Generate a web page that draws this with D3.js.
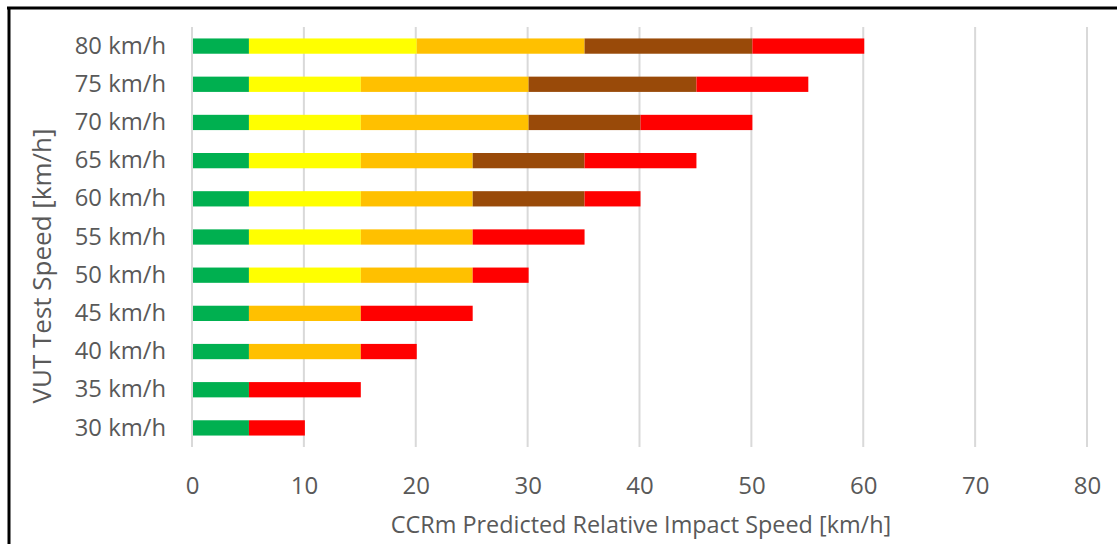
<!DOCTYPE html>
<html>
<head>
<meta charset="utf-8">
<script src="https://cdn.jsdelivr.net/npm/d3@7"></script>
<style>
  body { margin: 0; background: #fff; }
  text { font-family: "Open Sans", sans-serif; fill: #595959; }
</style>
</head>
<body>
<div id="chart"></div>
<script>
// categories (top to bottom) and the width of each coloured segment
var speeds = ["80 km/h", "75 km/h", "70 km/h", "65 km/h", "60 km/h", "55 km/h",
              "50 km/h", "45 km/h", "40 km/h", "35 km/h", "30 km/h"];
var green  = [5, 5, 5, 5, 5, 5, 5, 5, 5, 5, 5];
var yellow = [15, 10, 10, 10, 10, 10, 10, 0, 0, 0, 0];
var orange = [15, 15, 15, 10, 10, 10, 10, 10, 10, 0, 0];
var brown  = [15, 15, 10, 10, 10, 0, 0, 0, 0, 0, 0];
var red    = [10, 10, 10, 10, 5, 10, 5, 10, 5, 10, 5];
var xTicks = [0, 10, 20, 30, 40, 50, 60, 70, 80];

var svgWidth = 1117;
var svgHeight = 544;

var margin = { top: 27, right: 30, bottom: 97, left: 192 };
var width = 895;
var height = svgHeight - margin.top - margin.bottom;

var keys = ["green", "yellow", "orange", "brown", "red"];
var colors = {
  green: "#00B050",
  yellow: "#FFFF00",
  orange: "#FFC000",
  brown: "#994A09",
  red: "#FF0000"
};

// build rows for the stack layout
var rows = speeds.map(function(s, i) {
  return { speed: s, green: green[i], yellow: yellow[i], orange: orange[i], brown: brown[i], red: red[i] };
});

var svg = d3.select("#chart")
  .append("svg")
  .attr("width", svgWidth)
  .attr("height", svgHeight);

// frame: only left and top edges are visible in the crop
svg.append("line")
  .attr("x1", 9).attr("x2", 9).attr("y1", 7).attr("y2", svgHeight)
  .attr("stroke", "#000").attr("stroke-width", 3);
svg.append("line")
  .attr("x1", 7).attr("x2", svgWidth).attr("y1", 8).attr("y2", 8)
  .attr("stroke", "#000").attr("stroke-width", 3);

var chartGroup = svg.append("g")
  .attr("transform", `translate(${margin.left}, ${margin.top})`);

var xScale = d3.scaleLinear()
  .domain([0, 80])
  .range([0, width]);

var yScale = d3.scaleBand()
  .domain(speeds)
  .range([0, height])
  .paddingInner(0.6)
  .paddingOuter(0.3);

// gridlines
chartGroup.append("g")
  .selectAll("line")
  .data(xTicks)
  .enter()
  .append("line")
  .attr("x1", d => xScale(d))
  .attr("x2", d => xScale(d))
  .attr("y1", 0)
  .attr("y2", height)
  .attr("stroke", "#D9D9D9")
  .attr("stroke-width", 2);

// stacked bars
var stacked = d3.stack().keys(keys)(rows);

chartGroup.selectAll(".layer")
  .data(stacked)
  .enter()
  .append("g")
  .attr("class", "layer")
  .attr("fill", d => colors[d.key])
  .selectAll("rect")
  .data(d => d)
  .enter()
  .append("rect")
  .attr("x", d => xScale(d[0]) + 1)
  .attr("y", d => yScale(d.data.speed))
  .attr("width", d => Math.max(0, xScale(d[1]) - xScale(d[0])))
  .attr("height", yScale.bandwidth());

// x axis tick labels
var bottomAxis = d3.axisBottom(xScale)
  .tickValues(xTicks)
  .tickSize(0)
  .tickPadding(0);

var xAxis = chartGroup.append("g")
  .attr("transform", `translate(0, ${height + 30})`)
  .call(bottomAxis);
xAxis.select(".domain").remove();
xAxis.selectAll("text")
  .attr("font-size", "24px")
  .attr("dy", "0.71em")
  .style("font-family", "Open Sans, sans-serif")
  .attr("fill", "#595959");

// y axis category labels
var leftAxis = d3.axisLeft(yScale)
  .tickSize(0)
  .tickPadding(26);

var yAxis = chartGroup.append("g")
  .call(leftAxis);
yAxis.select(".domain").remove();
yAxis.selectAll("text")
  .attr("font-size", "23.8px")
  .style("font-family", "Open Sans, sans-serif")
  .attr("fill", "#595959");

// axis titles
svg.append("text")
  .attr("x", 641)
  .attr("y", 533)
  .attr("text-anchor", "middle")
  .attr("font-size", "23.4px")
  .text("CCRm Predicted Relative Impact Speed [km/h]");

svg.append("text")
  .attr("transform", "translate(51, 266) rotate(-90)")
  .attr("text-anchor", "middle")
  .attr("font-size", "26px")
  .text("VUT Test Speed [km/h]");
</script>
</body>
</html>
